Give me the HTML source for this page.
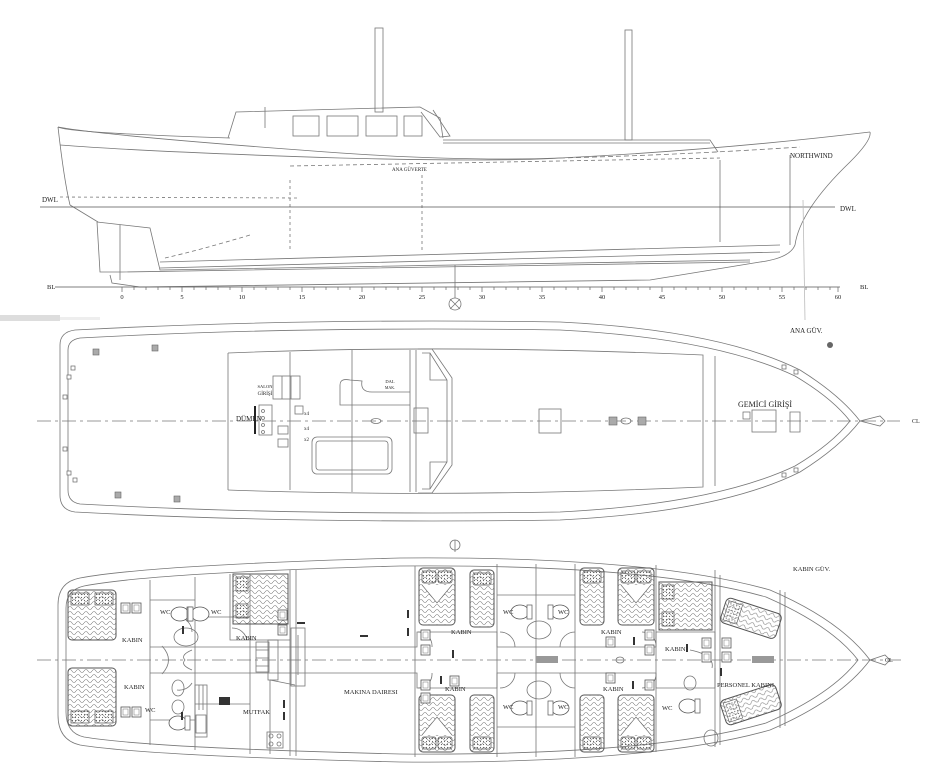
<!DOCTYPE html>
<html><head><meta charset="utf-8"><style>
html,body{margin:0;padding:0;background:#fff;}
svg{display:block;}
text{font-family:"Liberation Serif",serif;fill:#222;}
</style></head><body>
<svg width="941" height="768" viewBox="0 0 941 768" xmlns="http://www.w3.org/2000/svg">
<defs>
<pattern id="wv" width="8" height="5" patternUnits="userSpaceOnUse">
<path d="M0 3 Q2 0 4 3 T8 3" fill="none" stroke="#777" stroke-width="0.6"/>
</pattern>
<pattern id="dt" width="3" height="3" patternUnits="userSpaceOnUse">
<circle cx="1.5" cy="1.5" r="0.6" fill="#666"/>
</pattern>
<g id="bedV">
<rect x="0" y="0" width="36" height="57" rx="4" fill="url(#wv)" stroke="#555" stroke-width="1"/>
<rect x="3" y="3" width="14" height="12" rx="2" fill="url(#dt)" stroke="#555" stroke-width="0.7"/>
<rect x="19" y="3" width="14" height="12" rx="2" fill="url(#dt)" stroke="#555" stroke-width="0.7"/>
<path d="M3 17 L18 35 L33 17" fill="#fff" stroke="#666" stroke-width="0.6"/>
</g>
<g id="bedS">
<rect x="0" y="0" width="24" height="57" rx="4" fill="url(#wv)" stroke="#555" stroke-width="1"/>
<rect x="3" y="3" width="18" height="12" rx="2" fill="url(#dt)" stroke="#555" stroke-width="0.7"/>
</g>
<g id="sq"><rect x="0" y="0" width="9" height="10" fill="#fff" stroke="#555" stroke-width="0.8"/><rect x="2" y="2" width="5" height="6" fill="none" stroke="#777" stroke-width="0.5"/></g>
<g id="wc"><ellipse cx="0" cy="0" rx="9" ry="7" fill="#fff" stroke="#555" stroke-width="0.8"/><rect x="7" y="-7" width="5" height="14" fill="#fff" stroke="#555" stroke-width="0.7"/></g>
</defs>
<rect x="0" y="315" width="60" height="6" fill="#ddd"/>
<rect x="60" y="317" width="40" height="3" fill="#eee"/>
<g fill="none" stroke="#777" stroke-width="0.8">
<!-- ===== PROFILE ===== -->
<rect x="375" y="28" width="8" height="84"/>
<rect x="625" y="30" width="7" height="110"/>
<path d="M58 127 Q70 133 230 138"/>
<path d="M228 138 L236 112 L420 107 L440 118 L443 138"/>
<path d="M265 107 L265 128"/>
<rect x="293" y="116" width="26" height="20"/><rect x="327" y="116" width="31" height="20"/>
<rect x="366" y="116" width="31" height="20"/><rect x="404" y="116" width="18" height="20"/>
<path d="M421 112 L440 137 L450 136 L433 110"/>
<path d="M443 140 L710 140 L718 152"/>
<path d="M443 143 L710 143"/>
<path d="M58 127 Q100 135 300 150 Q450 162 560 158 Q720 150 870 132"/>
<path d="M60 145 Q150 152 340 158 Q500 162 560 158"/>
<path d="M560 158 Q680 155 800 147" stroke-dasharray="5 3"/>
<path d="M870 132 Q872 140 850 162 Q800 210 795 245 Q790 258 760 262"/>
<path d="M58 127 Q64 180 70 205"/>
<path d="M70 205 L98 222"/>
<path d="M97 222 L100 272 L122 272 L750 262"/>
<path d="M97 222 L150 228 L160 270 L750 260"/>
<path d="M110 275 L112 283 L140 287 L650 280 L760 262"/>
<path d="M160 262 L780 245"/><path d="M160 268 L780 252"/>
<path d="M165 258 Q200 250 250 235" stroke-dasharray="4 3"/>
<path d="M60 197 L300 198" stroke-dasharray="3 3"/>
<path d="M290 166 L720 158" stroke-dasharray="4 3"/>
<path d="M720 160 L720 242"/><path d="M790 155 L790 245"/>
<path d="M422 175 L422 250" stroke-dasharray="3 3"/>
<path d="M290 180 L290 250" stroke-dasharray="3 3"/>
<path d="M120 225 L120 280"/>
<path d="M455 265 L455 298"/>
<path d="M40 207 L835 207" stroke="#555"/>
<path d="M55 287 L840 287" stroke="#555"/>
<path d="M803 200 L805 320" stroke="#bbb"/>
<circle cx="455" cy="304" r="6"/><path d="M450 299 L460 309 M460 299 L450 309"/>
</g>
<g stroke="#666" stroke-width="0.7">
<path d="M122 287 v5 M134 287 v3 M146 287 v3 M158 287 v3 M170 287 v3 M182 287 v5 M194 287 v3 M206 287 v3 M218 287 v3 M230 287 v3 M242 287 v5 M254 287 v3 M266 287 v3 M278 287 v3 M290 287 v3 M302 287 v5 M314 287 v3 M326 287 v3 M338 287 v3 M350 287 v3 M362 287 v5 M374 287 v3 M386 287 v3 M398 287 v3 M410 287 v3 M422 287 v5 M434 287 v3 M446 287 v3 M458 287 v3 M470 287 v3 M482 287 v5 M494 287 v3 M506 287 v3 M518 287 v3 M530 287 v3 M542 287 v5 M554 287 v3 M566 287 v3 M578 287 v3 M590 287 v3 M602 287 v5 M614 287 v3 M626 287 v3 M638 287 v3 M650 287 v3 M662 287 v5 M674 287 v3 M686 287 v3 M698 287 v3 M710 287 v3 M722 287 v5 M734 287 v3 M746 287 v3 M758 287 v3 M770 287 v3 M782 287 v5 M794 287 v3 M806 287 v3 M818 287 v3 M830 287 v3 M838 287 v5"/>
</g>
<g font-size="6.5" text-anchor="middle">
<text x="122" y="299">0</text><text x="182" y="299">5</text><text x="242" y="299">10</text><text x="302" y="299">15</text><text x="362" y="299">20</text><text x="422" y="299">25</text><text x="482" y="299">30</text><text x="542" y="299">35</text><text x="602" y="299">40</text><text x="662" y="299">45</text><text x="722" y="299">50</text><text x="782" y="299">55</text><text x="838" y="299">60</text>
</g>
<text x="42" y="202" font-size="7">DWL</text>
<text x="840" y="211" font-size="7">DWL</text>
<text x="47" y="289" font-size="6.5">BL</text>
<text x="860" y="289" font-size="6.5">BL</text>
<text x="790" y="158" font-size="7">NORTHWIND</text>
<text x="392" y="171" font-size="5">ANA GÜVERTE</text>

<!-- ===== DECK PLAN ===== -->
<g fill="none" stroke="#777" stroke-width="0.8">
<path d="M75 330 Q300 318 560 322 Q720 330 800 370 Q840 395 860 421 Q840 447 800 472 Q720 512 560 520 Q300 524 75 512 Q60 510 60 495 L60 345 Q60 332 75 330 Z"/>
<path d="M80 338 Q300 326 560 330 Q715 338 795 376 Q832 398 850 421 Q832 444 795 466 Q715 504 560 512 Q300 516 80 504 Q68 502 68 490 L68 350 Q68 340 80 338 Z"/>
<path d="M228 353 Q450 344 703 355 L703 487 Q450 498 228 490"/>
<path d="M715 356 L715 486"/>
<path d="M228 353 L228 490"/>
<path d="M290 352 L290 490 M352 350 L352 492"/>
<path d="M410 350 L410 492 M416 350 L416 492"/>
<path d="M418 349 L432 349 L452 378 L452 465 L432 493 L418 493"/>
<path d="M422 353 L430 353 L447 380 L447 462 L430 489 L422 489"/>
<path d="M430 353 L430 380 L447 380 M430 489 L430 462 L447 462"/>
<rect x="414" y="408" width="14" height="25"/>
<path d="M340 385 Q340 378 350 380 L362 381 Q360 392 372 392 L410 392 M340 385 L340 405 L410 405"/>
<rect x="312" y="437" width="80" height="37" rx="5"/><rect x="316" y="441" width="72" height="29" rx="3"/>
<rect x="273" y="376" width="27" height="23"/><path d="M282 376 v23 M291 376 v23"/>
<rect x="259" y="405" width="13" height="30"/>
<circle cx="263" cy="411" r="1.5"/><circle cx="263" cy="418" r="1.5"/><circle cx="263" cy="425" r="1.5"/><circle cx="263" cy="432" r="1.5"/>
<rect x="278" y="426" width="10" height="8"/><rect x="278" y="439" width="10" height="8"/>
<rect x="295" y="406" width="8" height="8"/>
<rect x="539" y="409" width="22" height="24"/>
<rect x="752" y="410" width="24" height="22"/>
<path d="M790 412 L800 412 L800 432 L790 432 Z"/>
<ellipse cx="376" cy="421" rx="5" ry="2.5"/>
<ellipse cx="626" cy="421" rx="5" ry="3"/>
<path d="M860 421 L880 416 L885 421 L880 426 Z"/>
<path d="M37 421 H900" stroke-dasharray="14 4 3 4" stroke="#777"/>
</g>
<g fill="#aaa" stroke="#666" stroke-width="0.6">
<rect x="609" y="417" width="8" height="8"/><rect x="638" y="417" width="8" height="8"/>
<rect x="93" y="349" width="6" height="6"/><rect x="152" y="345" width="6" height="6"/>
<rect x="115" y="492" width="6" height="6"/><rect x="174" y="496" width="6" height="6"/>
</g>
<g fill="#fff" stroke="#666" stroke-width="0.7">
<rect x="67" y="375" width="4" height="4"/><rect x="71" y="366" width="4" height="4"/>
<rect x="63" y="447" width="4" height="4"/><rect x="67" y="471" width="4" height="4"/><rect x="73" y="478" width="4" height="4"/>
<rect x="63" y="395" width="4" height="4"/>
<rect x="782" y="365" width="4" height="4"/><rect x="794" y="370" width="4" height="4"/>
<rect x="782" y="473" width="4" height="4"/><rect x="794" y="468" width="4" height="4"/>
<rect x="743" y="412" width="7" height="7"/>
</g>
<path d="M255 406 L255 434" stroke="#222" stroke-width="2"/>
<text x="265" y="388" font-size="4.5" text-anchor="middle">SALON</text>
<text x="265" y="395" font-size="5" text-anchor="middle">GİRİŞİ</text>
<text x="236" y="421" font-size="7">DÜMEN</text>
<text x="390" y="383" font-size="4.5" text-anchor="middle">DAL</text>
<text x="390" y="389" font-size="4" text-anchor="middle">MAK.</text>
<text x="304" y="415" font-size="5">x4</text><text x="304" y="430" font-size="5">x4</text><text x="304" y="441" font-size="5">x2</text>
<text x="738" y="407" font-size="8">GEMİCİ GİRİŞİ</text>
<text x="790" y="333" font-size="7">ANA GÜV.</text>
<text x="912" y="423" font-size="6">CL</text>
<circle cx="830" cy="345" r="3" fill="#666"/>

<!-- ===== LOWER PLAN ===== -->
<g fill="none" stroke="#777" stroke-width="0.8">
<path d="M80 578 Q150 565 400 558 Q650 556 770 590 Q840 620 870 660 Q840 700 770 730 Q650 764 400 762 Q150 756 80 745 Q58 740 58 715 L58 605 Q58 582 80 578 Z"/>
<path d="M84 586 Q150 573 400 566 Q650 564 766 597 Q832 626 858 660 Q832 694 766 723 Q650 756 400 754 Q150 748 84 737 Q66 733 66 712 L66 608 Q66 590 84 586 Z"/>
<path d="M150 580 L150 745 M195 577 L195 750 M250 574 L250 754 M290 570 L290 756 M296 570 L296 756"/>
<path d="M150 600 L195 600 M150 720 L195 720 M195 617 L250 617 M195 704 L250 704"/>
<path d="M230 574 L230 640 L290 640 M270 680 L270 754"/>
<path d="M415 566 L415 757 M497 564 L497 757 M536 564 L536 757 M575 564 L575 757 M656 565 L656 752 M715 570 L715 747 M720 575 L720 745 M780 590 L780 728 M785 592 L785 726"/>
<path d="M497 595 L575 595 M497 727 L575 727"/>
<path d="M150 647 L417 647 L417 632 L497 632 L497 647 L656 647 L656 632 L715 632 L715 650 M150 673 L417 673 L417 688 L497 688 L497 673 L656 673 L656 688 L715 688 L715 668"/>
<path d="M192 650 Q180 655 185 660 Q180 665 192 670 M162 646 Q175 660 162 674"/>
<path d="M177 617 A15 15 0 0 1 192 632 M232 628 A15 15 0 0 1 247 640 M500 632 A15 15 0 0 1 515 647 M575 632 A15 15 0 0 0 560 647 M418 632 A14 14 0 0 1 432 647 M656 647 A14 14 0 0 0 642 632 M690 650 Q715 655 712 668"/>
<path d="M500 688 A15 15 0 0 0 515 673 M575 688 A15 15 0 0 1 560 673 M418 688 A14 14 0 0 0 432 673 M656 673 A14 14 0 0 1 642 688 M177 690 A15 15 0 0 0 192 683"/>
<rect x="268" y="640" width="10" height="40"/>
<rect x="256" y="642" width="13" height="30"/><path d="M256 650 h13 M256 658 h13 M256 666 h13"/>
<rect x="195" y="685" width="12" height="52"/><path d="M199 685 v25 M203 685 v25"/><rect x="196" y="715" width="10" height="18"/>
<rect x="291" y="628" width="14" height="58"/><path d="M298 635 v40"/>
<path d="M270 680 L295 685"/>
<rect x="267" y="732" width="16" height="16"/><circle cx="271" cy="736" r="2"/><circle cx="279" cy="736" r="2"/><circle cx="271" cy="744" r="2"/><circle cx="279" cy="744" r="2"/>
<ellipse cx="186" cy="637" rx="12" ry="9"/>
<ellipse cx="539" cy="630" rx="12" ry="9"/>
<ellipse cx="539" cy="690" rx="12" ry="9"/>
<ellipse cx="178" cy="688" rx="6" ry="8"/><ellipse cx="178" cy="707" rx="6" ry="7"/>
<ellipse cx="690" cy="683" rx="6" ry="7"/>
<ellipse cx="711" cy="738" rx="7" ry="8"/>
<ellipse cx="620" cy="660" rx="4" ry="3"/>
<path d="M37 660 H905" stroke-dasharray="14 4 3 4" stroke="#777"/>
<path d="M870 660 L885 655 L890 660 L885 665 Z"/>
<path d="M455 540 L455 552"/><circle cx="455" cy="545" r="5"/>
</g>
<!-- beds -->
<g transform="translate(68 590)"><rect x="0" y="0" width="48" height="50" rx="4" fill="url(#wv)" stroke="#555"/><rect x="3" y="3" width="18" height="12" fill="url(#dt)" stroke="#555" stroke-width="0.7"/><rect x="27" y="3" width="18" height="12" fill="url(#dt)" stroke="#555" stroke-width="0.7"/></g>
<g transform="translate(68 668)"><rect x="0" y="0" width="48" height="58" rx="4" fill="url(#wv)" stroke="#555"/><rect x="3" y="43" width="18" height="12" fill="url(#dt)" stroke="#555" stroke-width="0.7"/><rect x="27" y="43" width="18" height="12" fill="url(#dt)" stroke="#555" stroke-width="0.7"/></g>
<g transform="translate(233 574)"><rect x="0" y="0" width="55" height="50" fill="url(#wv)" stroke="#555"/><rect x="3" y="3" width="12" height="14" fill="url(#dt)" stroke="#555" stroke-width="0.7"/><rect x="3" y="30" width="12" height="14" fill="url(#dt)" stroke="#555" stroke-width="0.7"/></g>
<use href="#bedV" x="419" y="568"/><use href="#bedS" x="470" y="570"/>
<use href="#bedS" x="580" y="568"/><use href="#bedV" x="618" y="568"/>
<g transform="translate(419 752) scale(1 -1)"><use href="#bedV"/></g>
<g transform="translate(470 752) scale(1 -1)"><use href="#bedS"/></g>
<g transform="translate(580 752) scale(1 -1)"><use href="#bedS"/></g>
<g transform="translate(618 752) scale(1 -1)"><use href="#bedV"/></g>
<g transform="translate(659 582)"><rect x="0" y="0" width="53" height="48" fill="url(#wv)" stroke="#555"/><rect x="3" y="3" width="12" height="14" fill="url(#dt)" stroke="#555" stroke-width="0.7"/><rect x="3" y="30" width="12" height="14" fill="url(#dt)" stroke="#555" stroke-width="0.7"/></g>
<g transform="rotate(18 750 618)"><rect x="722" y="605" width="58" height="26" rx="5" fill="url(#wv)" stroke="#555"/><rect x="725" y="608" width="14" height="20" fill="url(#dt)" stroke="#555" stroke-width="0.6"/></g>
<g transform="rotate(-18 750 705)"><rect x="722" y="692" width="58" height="26" rx="5" fill="url(#wv)" stroke="#555"/><rect x="725" y="695" width="14" height="20" fill="url(#dt)" stroke="#555" stroke-width="0.6"/></g>
<!-- small squares -->
<use href="#sq" x="121" y="603"/><use href="#sq" x="132" y="603"/>
<use href="#sq" x="121" y="707"/><use href="#sq" x="132" y="707"/>
<use href="#sq" x="278" y="610"/><use href="#sq" x="278" y="625"/>
<use href="#sq" x="421" y="630"/><use href="#sq" x="421" y="645"/>
<use href="#sq" x="421" y="680"/><use href="#sq" x="421" y="693"/>
<use href="#sq" x="450" y="676"/><use href="#sq" x="606" y="637"/><use href="#sq" x="606" y="673"/>
<use href="#sq" x="645" y="630"/><use href="#sq" x="645" y="645"/><use href="#sq" x="645" y="680"/>
<use href="#sq" x="702" y="638"/><use href="#sq" x="702" y="652"/><use href="#sq" x="722" y="638"/><use href="#sq" x="722" y="652"/>
<g transform="translate(180 614)"><use href="#wc"/></g><g transform="translate(200 614) scale(-1 1)"><use href="#wc"/></g>
<g transform="translate(520 612)"><use href="#wc"/></g><g transform="translate(560 612) scale(-1 1)"><use href="#wc"/></g>
<g transform="translate(520 708)"><use href="#wc"/></g><g transform="translate(560 708) scale(-1 1)"><use href="#wc"/></g>
<g transform="translate(178 723)"><use href="#wc"/></g>
<g transform="translate(688 706)"><use href="#wc"/></g>
<rect x="536" y="656" width="22" height="7" fill="#999"/>
<rect x="752" y="656" width="22" height="7" fill="#999"/>
<rect x="219" y="697" width="11" height="8" fill="#333"/>
<g fill="#333"><rect x="182" y="626" width="2" height="8"/><rect x="181" y="712" width="2" height="8"/><rect x="407" y="610" width="2" height="8"/><rect x="407" y="628" width="2" height="8"/><rect x="283" y="700" width="2" height="8"/><rect x="283" y="712" width="2" height="8"/><rect x="452" y="650" width="2" height="8"/><rect x="440" y="676" width="2" height="8"/><rect x="633" y="637" width="2" height="8"/><rect x="632" y="681" width="2" height="8"/><rect x="686" y="644" width="2" height="8"/><rect x="720" y="668" width="2" height="8"/><rect x="297" y="622" width="8" height="2"/><rect x="360" y="635" width="8" height="2"/></g>
<g font-size="6.5">
<text x="122" y="642">KABIN</text><text x="124" y="689">KABIN</text>
<text x="160" y="614">WC</text><text x="211" y="614">WC</text>
<text x="236" y="640">KABIN</text><text x="145" y="712" fill="#888">WC</text>
<text x="243" y="714">MUTFAK</text>
<text x="344" y="694">MAKINA DAIRESI</text>
<text x="451" y="634">KABIN</text><text x="445" y="691">KABIN</text>
<text x="503" y="614">WC</text><text x="558" y="614">WC</text>
<text x="503" y="709">WC</text><text x="558" y="709">WC</text>
<text x="601" y="634">KABIN</text><text x="603" y="691">KABIN</text>
<text x="665" y="651">KABIN</text><text x="662" y="710">WC</text>
<text x="717" y="687">PERSONEL KABINI</text>
<text x="793" y="571">KABIN GÜV.</text>
</g>
<text x="885" y="662" font-size="6">CL</text>
</svg>
</body></html>
